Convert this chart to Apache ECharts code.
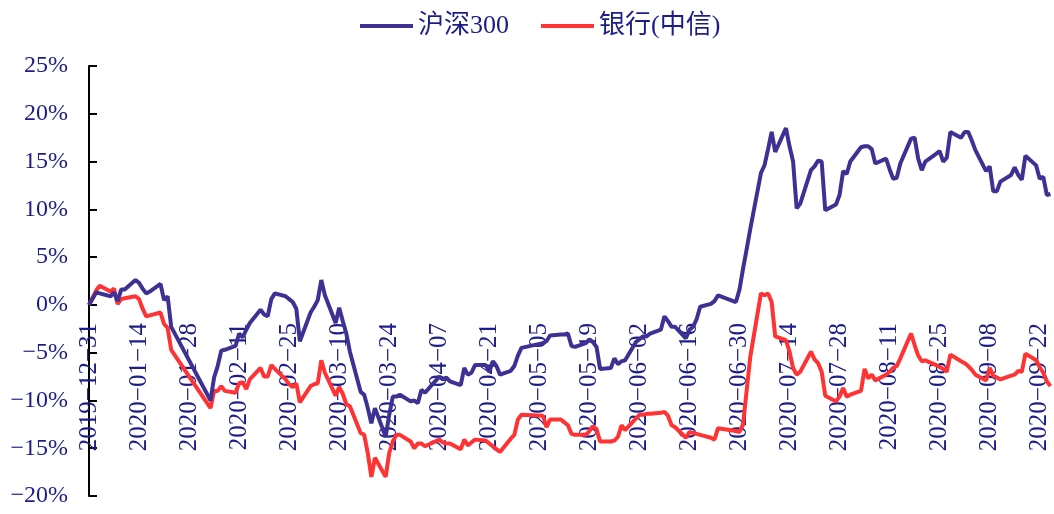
<!DOCTYPE html>
<html><head><meta charset="utf-8">
<script src="https://cdn.jsdelivr.net/npm/echarts@6/dist/echarts.min.js"></script>
<style>html,body{margin:0;padding:0;background:#fff}#c{width:1054px;height:514px}</style>
</head><body><div id="c"></div>
<script>
const dates = [
'2019-12-31',
'2020-01-02','2020-01-03','2020-01-06','2020-01-07','2020-01-08','2020-01-09','2020-01-10','2020-01-13','2020-01-14','2020-01-15','2020-01-16','2020-01-17','2020-01-20','2020-01-21','2020-01-22','2020-01-23',
'2020-02-03','2020-02-04','2020-02-05','2020-02-06','2020-02-07','2020-02-10','2020-02-11','2020-02-12','2020-02-13','2020-02-14','2020-02-17','2020-02-18','2020-02-19','2020-02-20','2020-02-21','2020-02-24','2020-02-25','2020-02-26','2020-02-27','2020-02-28',
'2020-03-02','2020-03-03','2020-03-04','2020-03-05','2020-03-06','2020-03-09','2020-03-10','2020-03-11','2020-03-12','2020-03-13','2020-03-16','2020-03-17','2020-03-18','2020-03-19','2020-03-20','2020-03-23','2020-03-24','2020-03-25','2020-03-26','2020-03-27','2020-03-30','2020-03-31',
'2020-04-01','2020-04-02','2020-04-03','2020-04-07','2020-04-08','2020-04-09','2020-04-10','2020-04-13','2020-04-14','2020-04-15','2020-04-16','2020-04-17','2020-04-20','2020-04-21','2020-04-22','2020-04-23','2020-04-24','2020-04-27','2020-04-28','2020-04-29','2020-04-30',
'2020-05-06','2020-05-07','2020-05-08','2020-05-11','2020-05-12','2020-05-13','2020-05-14','2020-05-15','2020-05-18','2020-05-19','2020-05-20','2020-05-21','2020-05-22','2020-05-25','2020-05-26','2020-05-27','2020-05-28','2020-05-29',
'2020-06-01','2020-06-02','2020-06-03','2020-06-04','2020-06-05','2020-06-08','2020-06-09','2020-06-10','2020-06-11','2020-06-12','2020-06-15','2020-06-16','2020-06-17','2020-06-18','2020-06-19','2020-06-22','2020-06-23','2020-06-24','2020-06-29','2020-06-30',
'2020-07-01','2020-07-02','2020-07-03','2020-07-06','2020-07-07','2020-07-08','2020-07-09','2020-07-10','2020-07-13','2020-07-14','2020-07-15','2020-07-16','2020-07-17','2020-07-20','2020-07-21','2020-07-22','2020-07-23','2020-07-24','2020-07-27','2020-07-28','2020-07-29','2020-07-30','2020-07-31',
'2020-08-03','2020-08-04','2020-08-05','2020-08-06','2020-08-07','2020-08-10','2020-08-11','2020-08-12','2020-08-13','2020-08-14','2020-08-17','2020-08-18','2020-08-19','2020-08-20','2020-08-21','2020-08-24','2020-08-25','2020-08-26','2020-08-27','2020-08-28','2020-08-31',
'2020-09-01','2020-09-02','2020-09-03','2020-09-04','2020-09-07','2020-09-08','2020-09-09','2020-09-10','2020-09-11','2020-09-14','2020-09-15','2020-09-16','2020-09-17','2020-09-18','2020-09-21','2020-09-22','2020-09-23','2020-09-24','2020-09-25'
];
// 沪深300 cumulative change, %
const hs300 = [
0,
1.3,1.2,0.9,1.3,0.4,1.6,1.6,2.6,2.3,1.7,1.2,1.4,2.2,0.5,0.9,-2.3,
-10.0,-7.6,-6.4,-4.8,-4.7,-4.3,-3.0,-3.4,-2.6,-1.9,-0.5,-1.0,-1.2,0.6,1.2,0.9,0.6,0.3,-0.4,-3.8,
-0.8,-0.2,0.5,2.6,1.0,-1.9,-0.3,-1.7,-3.0,-4.9,-9.1,-9.4,-10.8,-12.4,-10.8,-13.8,-11.5,-9.6,-9.6,-9.4,-10.1,-10.0,
-10.3,-8.9,-9.2,-7.5,-7.8,-7.6,-8.0,-8.4,-6.6,-7.3,-7.1,-6.3,-6.3,-7.0,-5.9,-6.4,-7.3,-6.9,-6.4,-5.3,-4.5,
-4.0,-3.8,-3.2,-3.1,-3.1,-3.0,-4.3,-4.4,-4.0,-3.6,-3.9,-4.4,-6.7,-6.6,-5.6,-6.2,-5.9,-5.8,
-3.9,-3.6,-3.3,-3.3,-3.0,-2.6,-1.2,-1.7,-2.3,-2.3,-3.5,-2.6,-2.3,-1.5,-0.2,0.1,0.4,1.0,0.3,1.6,
3.8,5.8,7.9,13.8,14.6,16.3,18.1,16.0,18.5,16.6,15.0,10.1,10.6,14.1,14.5,15.1,15.0,9.9,10.5,11.5,14.0,13.7,15.0,
16.5,16.6,16.6,16.3,14.8,15.3,14.2,13.2,13.3,14.8,17.4,17.5,15.3,14.1,15.0,15.8,16.1,15.0,15.4,18.1,17.5,
18.1,18.1,17.2,16.2,14.0,14.5,11.9,11.9,12.9,13.6,14.4,13.6,13.1,15.6,14.6,13.2,13.4,11.5,11.6
];
// 银行(中信) cumulative change, %
const bank = [
0,
1.5,2.0,1.4,1.7,0.1,0.6,0.7,0.9,0.6,-0.4,-1.2,-1.1,-0.8,-2.0,-2.4,-4.7,
-10.8,-9.0,-9.0,-8.5,-9.0,-9.2,-8.2,-8.1,-8.8,-7.8,-6.6,-7.5,-7.5,-6.3,-6.7,-7.8,-8.3,-8.6,-8.2,-10.2,
-8.5,-8.3,-8.2,-5.8,-7.1,-9.5,-8.6,-9.3,-10.4,-10.6,-13.4,-13.6,-15.5,-18.0,-16.0,-18.0,-15.5,-14.3,-13.6,-13.6,-14.3,-15.0,
-14.5,-14.5,-14.8,-14.1,-14.4,-14.5,-14.5,-15.1,-14.1,-14.7,-14.4,-14.1,-14.2,-14.5,-14.8,-15.1,-15.4,-14.0,-13.6,-12.0,-11.5,
-11.6,-12.8,-12.0,-12.0,-12.3,-12.6,-13.5,-13.6,-13.6,-13.2,-12.7,-13.0,-14.3,-14.3,-14.2,-13.8,-12.6,-13.1,
-11.9,-11.5,-11.5,-11.4,-11.4,-11.3,-11.2,-11.6,-12.6,-12.8,-13.9,-13.3,-13.4,-13.5,-13.6,-13.9,-14.1,-12.9,-13.2,-13.3,
-12.5,-9.0,-5.5,1.2,1.0,1.2,0.3,-3.3,-3.7,-4.9,-6.6,-7.3,-7.0,-4.9,-5.7,-6.1,-7.0,-9.5,-10.1,-9.6,-8.7,-9.6,-9.4,
-9.0,-6.7,-7.7,-7.3,-7.9,-7.3,-7.0,-6.6,-6.4,-5.6,-3.0,-4.2,-5.3,-5.9,-5.8,-6.3,-6.5,-6.7,-7.0,-5.2,-5.9,
-6.1,-6.4,-6.8,-7.3,-7.9,-6.6,-7.4,-7.6,-7.8,-7.4,-7.3,-6.9,-7.0,-5.1,-5.8,-6.5,-7.1,-8.0,-8.5
];
const seriesNames = ['沪深300', '银行(中信)'];
const yTicks = { min: -20, max: 25, step: 5 };
const xTickDays = 14;

const DAY = 86400000;
const base = Date.UTC(2019, 11, 31);
function dayOf(s) { const p = s.split('-'); return Math.round((Date.UTC(+p[0], +p[1]-1, +p[2]) - base) / DAY); }
function fmtDay(d) {
  const t = new Date(base + d * DAY);
  const m = String(t.getUTCMonth()+1).padStart(2,'0'), dd = String(t.getUTCDate()).padStart(2,'0');
  return t.getUTCFullYear() + '−' + m + '−' + dd;
}
const txt = '#1c1c8a';
const chart = echarts.init(document.getElementById('c'), null, {renderer: 'canvas'});
chart.setOption({
  animation: false,
  backgroundColor: '#fff',
  legend: {
    top: 8, left: 355, itemWidth: 53, itemHeight: 4, itemGap: 32, icon: 'rect',
    textStyle: { color: txt, fontSize: 26, fontFamily: 'Liberation Serif, Noto Sans CJK SC' },
    data: seriesNames
  },
  grid: { left: 89, right: 0, top: 66, bottom: 18, containLabel: false, outerBoundsMode: 'none' },
  xAxis: {
    type: 'value', min: 0, max: 270, interval: xTickDays,
    axisLine: { show: false, onZero: false },
    axisTick: { show: false }, splitLine: { show: false },
    axisLabel: { rotate: 90, margin: -173, color: txt, fontSize: 25, fontFamily: 'Liberation Serif',
      showMaxLabel: false, hideOverlap: false, formatter: v => fmtDay(v) }
  },
  yAxis: {
    type: 'value', min: yTicks.min, max: yTicks.max, interval: yTicks.step,
    axisLine: { show: true, lineStyle: { color: '#000', width: 2 } },
    axisTick: { show: true, inside: true, length: 8, lineStyle: { color: '#000', width: 2 } },
    splitLine: { show: false },
    axisLabel: { margin: 21, color: txt, fontSize: 24, fontFamily: 'Liberation Serif',
      formatter: v => String(v).replace('-', '−') + '%' }
  },
  series: [
    { name: seriesNames[0], type: 'line', symbol: 'none', z: 3,
      lineStyle: { color: '#3d3294', width: 4 }, itemStyle: { color: '#3d3294' },
      data: dates.map((d, i) => [dayOf(d), hs300[i]]) },
    { name: seriesNames[1], type: 'line', symbol: 'none', z: 2,
      lineStyle: { color: '#ff3333', width: 4 }, itemStyle: { color: '#ff3333' },
      data: dates.map((d, i) => [dayOf(d), bank[i]]) }
  ]
});
</script></body></html>
